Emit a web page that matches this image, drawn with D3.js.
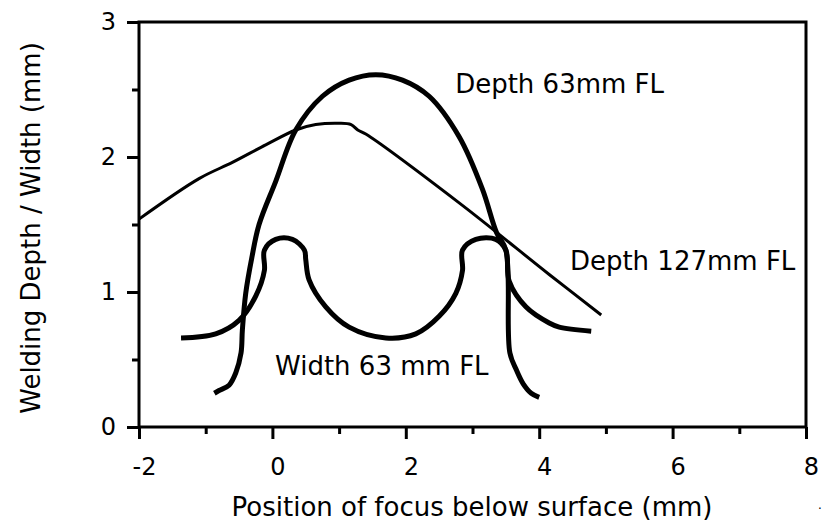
<!DOCTYPE html>
<html>
<head>
<meta charset="utf-8">
<script src="https://cdn.jsdelivr.net/npm/d3@7"></script>
<style>
  body { margin: 0; background: #fff; }
  text { font-family: "DejaVu Sans", Verdana, sans-serif; fill: #000; }
</style>
</head>
<body>
<figure id="chart" style="margin:0"></figure>
<script>
// Position of focus (mm) / value (mm)
const depth127X = [-2, -1.1, -0.6, -0.1, 0.35, 0.65, 1.0, 1.18, 1.28, 1.4, 2.8, 4.15, 4.93];
const depth127Y = [1.54, 1.84, 1.96, 2.09, 2.2, 2.24, 2.25, 2.24, 2.2, 2.17, 1.66, 1.13, 0.83];

const depth63X = [-0.87, -0.8, -0.65, -0.55, -0.47, -0.45, -0.4, -0.31, -0.2, 0.05, 0.35, 0.75, 1.15, 1.55, 1.95, 2.35, 2.8, 3.15, 3.36, 3.5, 3.56, 3.66, 3.76, 3.88, 4.0];
const depth63Y = [0.25, 0.27, 0.31, 0.4, 0.55, 0.72, 0.99, 1.25, 1.5, 1.82, 2.2, 2.45, 2.57, 2.61, 2.57, 2.45, 2.15, 1.76, 1.44, 1.31, 0.55, 0.42, 0.32, 0.25, 0.22];

const width63X = [-1.37, -0.85, -0.5, -0.25, -0.12, -0.12, 0.05, 0.3, 0.48, 0.5, 0.55, 0.8, 1.15, 1.7, 2.15, 2.5, 2.75, 2.85, 2.85, 3.05, 3.35, 3.5, 3.55, 3.8, 4.15, 4.3, 4.78];
const width63Y = [0.66, 0.69, 0.79, 0.97, 1.16, 1.31, 1.39, 1.39, 1.31, 1.24, 1.09, 0.89, 0.74, 0.66, 0.69, 0.82, 0.99, 1.16, 1.31, 1.39, 1.39, 1.31, 1.08, 0.89, 0.77, 0.74, 0.71];

const xTicks = [-2, 0, 2, 4, 6, 8];
const xMinorTicks = [-1, 1, 3, 5, 7];
const yTicks = [0, 1, 2, 3];
const yMinorTicks = [0.5, 1.5, 2.5];

const chartWidth = 824, chartHeight = 529;
const plotLeft = 139, plotRight = 806, plotTop = 22, plotBottom = 427;

const svg = d3.select("figure#chart")
  .append("svg")
  .attr("width", chartWidth)
  .attr("height", chartHeight);

// Scales
const x = d3.scaleLinear().domain([-2, 8]).range([plotLeft, plotRight]);
const y = d3.scaleLinear().domain([0, 3]).range([plotBottom, plotTop]);

// Frame
svg.append("rect")
  .attr("x", x(-2))
  .attr("y", y(3))
  .attr("width", x(8) - x(-2))
  .attr("height", y(0) - y(3))
  .attr("fill", "none")
  .attr("stroke", "#000")
  .attr("stroke-width", 3);

// X axis, major then minor ticks
const xAxis = svg.append("g")
  .attr("transform", "translate(0," + plotBottom + ")")
  .call(d3.axisBottom(x).tickValues(xTicks).tickFormat(d => String(d)).tickSize(12).tickPadding(19));
xAxis.selectAll("text").attr("dx", 5).style("font-size", "24px");

svg.append("g")
  .attr("transform", "translate(0," + plotBottom + ")")
  .call(d3.axisBottom(x).tickValues(xMinorTicks).tickFormat("").tickSize(7));

// Y axis
const yAxis = svg.append("g")
  .attr("transform", "translate(" + plotLeft + ",0)")
  .call(d3.axisLeft(y).tickValues(yTicks).tickFormat(d => String(d)).tickSize(12).tickPadding(11));
yAxis.selectAll("text").style("font-size", "24px");

svg.append("g")
  .attr("transform", "translate(" + plotLeft + ",0)")
  .call(d3.axisLeft(y).tickValues(yMinorTicks).tickFormat("").tickSize(7));

svg.selectAll(".domain").remove();
svg.selectAll(".tick line").attr("stroke", "#000").attr("stroke-width", 3);

// Curves
const line = d3.line()
  .x(d => x(d[0]))
  .y(d => y(d[1]))
  .curve(d3.curveCatmullRom.alpha(0.5));

const series = [
  { xs: depth127X, ys: depth127Y, w: 3 },
  { xs: depth63X, ys: depth63Y, w: 5 },
  { xs: width63X, ys: width63Y, w: 5 }
];

svg.selectAll(".curve")
  .data(series)
  .enter()
  .append("path")
  .attr("class", "curve")
  .attr("d", s => line(d3.zip(s.xs, s.ys)))
  .attr("fill", "none")
  .attr("stroke", "#000")
  .attr("stroke-width", s => s.w)
  .attr("stroke-linejoin", "round")
  .attr("stroke-linecap", "butt");

// Curve labels
svg.append("text")
  .attr("x", x(2.74))
  .attr("y", y(2.474))
  .style("font-size", "26px")
  .text("Depth 63mm FL");

svg.append("text")
  .attr("x", x(4.46))
  .attr("y", y(1.163))
  .style("font-size", "26px")
  .text("Depth 127mm FL");

svg.append("text")
  .attr("x", x(0.04))
  .attr("y", y(0.385))
  .style("font-size", "26px")
  .text("Width 63 mm FL");

// Axis titles
svg.append("text")
  .attr("x", 472)
  .attr("y", 516)
  .attr("text-anchor", "middle")
  .style("font-size", "26px")
  .text("Position of focus below surface (mm)");

svg.append("text")
  .attr("transform", "translate(40,228) rotate(-90)")
  .attr("text-anchor", "middle")
  .style("font-size", "26px")
  .text("Welding Depth / Width (mm)");

svg.append("text")
  .attr("x", 818)
  .attr("y", 509)
  .style("font-size", "12px")
  .text(".");
</script>
</body>
</html>
